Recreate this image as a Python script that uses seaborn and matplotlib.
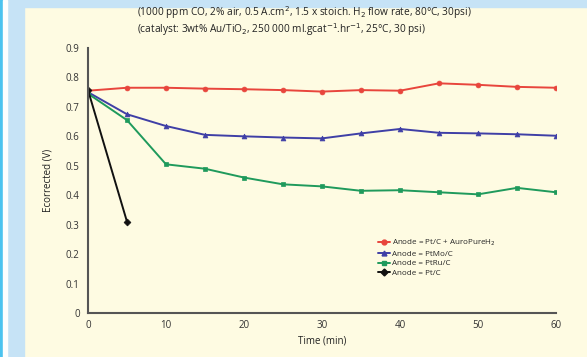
import matplotlib
matplotlib.use("Agg")
import matplotlib.pyplot as plt
import seaborn as sns
import pandas as pd
from matplotlib.patches import Rectangle
from matplotlib.lines import Line2D

time_full = [0, 5, 10, 15, 20, 25, 30, 35, 40, 45, 50, 55, 60]
time_pt = [0, 5]
red_vals = [0.755, 0.765, 0.765, 0.762, 0.760, 0.757, 0.752, 0.757, 0.755, 0.780, 0.775, 0.768, 0.765]
blue_vals = [0.750, 0.675, 0.635, 0.605, 0.600, 0.596, 0.593, 0.610, 0.625, 0.612, 0.610, 0.607, 0.602]
green_vals = [0.745, 0.655, 0.505, 0.490, 0.460, 0.437, 0.430, 0.415, 0.417, 0.410, 0.403, 0.425, 0.410]
black_vals = [0.757, 0.310]

labels = ["Anode = Pt/C + AuroPureH$_2$", "Anode = PtMo/C", "Anode = PtRu/C", "Anode = Pt/C"]
colors = ["#e8453c", "#3f3fa6", "#1f9a5c", "#111111"]
markers = ["o", "^", "s", "D"]
x_ticks = [0, 10, 20, 30, 40, 50, 60]
y_ticks = [0, 0.1, 0.2, 0.3, 0.4, 0.5, 0.6, 0.7, 0.8, 0.9]
y_tick_labels = ["0", "0.1", "0.2", "0.3", "0.4", "0.5", "0.6", "0.7", "0.8", "0.9"]

rows = []
for lab, xs, ys in zip(labels, [time_full, time_full, time_full, time_pt],
                       [red_vals, blue_vals, green_vals, black_vals]):
    for x, y in zip(xs, ys):
        rows.append({"Time": x, "E": y, "Anode": lab})
df = pd.DataFrame(rows)

sns.set_style("white")
plt.rcParams["font.family"] = ["Open Sans", "DejaVu Sans"]

fig = plt.figure(figsize=(5.87, 3.57), dpi=100)
cream = "#fefbe2"
fig.patch.set_facecolor(cream)
# decorative frame
fig.patches.append(Rectangle((0, 0), 24/587, 1, transform=fig.transFigure, color="#c6e3f6", zorder=0))
fig.patches.append(Rectangle((0, 1-7/357), 1, 7/357, transform=fig.transFigure, color="#c6e3f6", zorder=0))
fig.patches.append(Rectangle((0, 0), 3/587, 1, transform=fig.transFigure, color="#4cc3ef", zorder=1))
fig.patches.append(Rectangle((3/587, 0), 4/587, 1, transform=fig.transFigure, color="#fefefe", zorder=1))

ax = fig.add_axes([88/587, 1-313/357, (556-88)/587, (313-48)/357])
ax.set_facecolor(cream)

sns.lineplot(data=df, x="Time", y="E", hue="Anode", style="Anode",
             hue_order=labels, style_order=labels,
             palette=dict(zip(labels, colors)), markers=dict(zip(labels, markers)),
             dashes=False, markersize=3.5, linewidth=1.4, markeredgewidth=0.5,
             ax=ax, legend=False)
for line in ax.get_lines():
    line.set_markeredgecolor(line.get_color())

ax.set_xlim(0, 60)
ax.set_ylim(0, 0.9)
ax.set_xticks(x_ticks)
ax.set_yticks(y_ticks)
ax.set_yticklabels(y_tick_labels)
ax.tick_params(axis="both", labelsize=7, colors="#333333", length=3, width=1)
ax.tick_params(axis="x", direction="in", pad=5)
ax.tick_params(axis="y", direction="out", pad=3)
for s in ["top", "right"]:
    ax.spines[s].set_visible(False)
for s in ["left", "bottom"]:
    ax.spines[s].set_color("#555555")
    ax.spines[s].set_linewidth(1.5)
ax.set_xlabel("Time (min)", fontsize=7, labelpad=3, color="#222222")
ax.set_ylabel("Ecorrected (V)", fontsize=7, labelpad=9, color="#222222")

handles = [Line2D([0], [0], color=c, marker=m, markersize=3.5, linewidth=1.4, markeredgecolor=c)
           for c, m in zip(colors, markers)]
ax.legend(handles, labels, loc="upper left", bbox_to_anchor=(0.61, 0.3),
          frameon=False, fontsize=5.8, handlelength=1.6, handletextpad=0.2,
          labelspacing=0.25, borderpad=0)

fig.text(137/587, 1-13/357, "(1000 ppm CO, 2% air, 0.5 A.cm$^{2}$, 1.5 x stoich. H$_2$ flow rate, 80°C, 30psi)",
         ha="left", va="center", fontsize=7.3, color="#222222")
fig.text(137/587, 1-30/357, "(catalyst: 3wt% Au/TiO$_2$, 250 000 ml.gcat$^{-1}$.hr$^{-1}$, 25°C, 30 psi)",
         ha="left", va="center", fontsize=7.3, color="#222222")

fig.savefig("out.png", dpi=100, facecolor=fig.get_facecolor())
